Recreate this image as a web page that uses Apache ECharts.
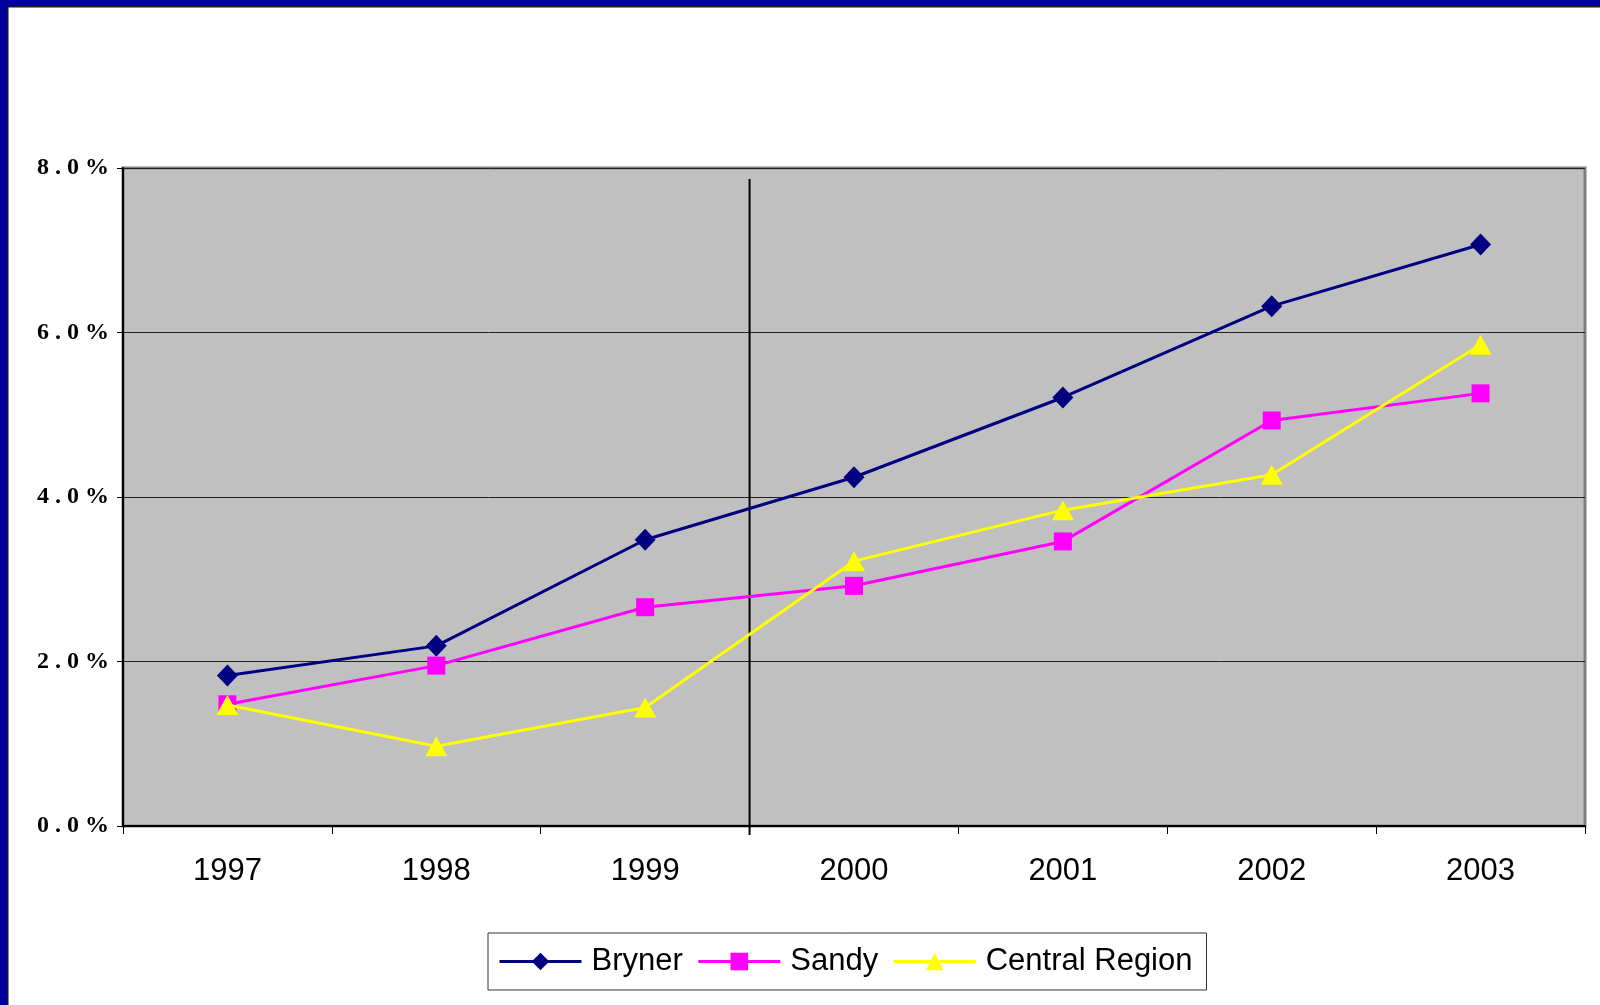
<!DOCTYPE html>
<html>
<head>
<meta charset="utf-8">
<script src="https://cdn.jsdelivr.net/npm/echarts@6/dist/echarts.min.js"></script>
<style>
html,body{margin:0;padding:0;background:#fff;}
#chart{width:1600px;height:1005px;}
</style>
</head>
<body>
<div id="chart"></div>
<script>
const years = ['1997','1998','1999','2000','2001','2002','2003'];
const bryner = [1.83, 2.19, 3.48, 4.24, 5.21, 6.32, 7.07];
const sandy = [1.48, 1.95, 2.66, 2.92, 3.46, 4.93, 5.26];
const central = [1.47, 0.97, 1.44, 3.22, 3.84, 4.27, 5.85];
const seriesNames = ['Bryner', 'Sandy', 'Central Region'];
// divider between 1999 and 2000 (category position 2.5), spanning value range
const dividerLine = [[2.5, 7.865], [2.5, -0.11]];

const chart = echarts.init(document.getElementById('chart'));
chart.setOption({
  animation: false,
  backgroundColor: '#ffffff',
  graphic: [
    {type:'rect', shape:{x:0,y:0,width:1600,height:6}, style:{fill:'#00009C'}, z:100},
    {type:'rect', shape:{x:0,y:6,width:1600,height:1.5}, style:{fill:'#1a1a1a'}, z:100},
    {type:'rect', shape:{x:0,y:0,width:7,height:1005}, style:{fill:'#00009C'}, z:100},
    {type:'rect', shape:{x:7,y:6,width:1.5,height:1005}, style:{fill:'#1a1a1a'}, z:100}
  ],
  grid: {
    left: 123, right: 15, top: 168, bottom: 179,
    show: true, backgroundColor: '#C0C0C0',
    borderColor: '#808080', borderWidth: 3
  },
  legend: {
    data: seriesNames,
    left: 488, top: 933, width: 717, height: 62,
    padding: [13, 14, 13, 10],
    itemGap: 14,
    itemWidth: 82, itemHeight: 22,
    borderColor: '#333', borderWidth: 1,
    backgroundColor: '#fff',
    lineStyle: {width: 3},
    textStyle: {fontFamily: 'Liberation Sans, Arial', fontSize: 31, color: '#000', padding:[0,0,0,5]}
  },
  xAxis: [{
    type: 'category',
    data: years,
    boundaryGap: true,
    axisLine: {lineStyle: {color: '#000', width: 2}},
    axisTick: {show: true, length: 8, lineStyle: {color: '#000', width: 1}},
    axisLabel: {fontFamily: 'Liberation Sans, Arial', fontSize: 31, color: '#000', margin: 30},
    splitLine: {show: false}
  }, {
    type: 'value', min: -0.5, max: 6.5, show: false
  }],
  yAxis: {
    type: 'value', min: 0, max: 8, interval: 2,
    axisLine: {show: true, onZero: false, lineStyle: {color: '#000', width: 2}},
    axisTick: {show: true, length: 6, lineStyle: {color: '#000'}},
    axisLabel: {
      fontFamily: 'Liberation Serif, Times New Roman', fontWeight: 'bold', fontSize: 24, color: '#000',
      margin: 14,
      formatter: v => (v.toFixed(1) + '%').split('').join(' ')
    },
    splitLine: {lineStyle: {color: '#222', width: 1}}
  },
  series: [
    {
      name: '_divider', type: 'line', xAxisIndex: 1, data: dividerLine,
      showSymbol: false, symbol: 'none', clip: false, silent: true,
      lineStyle: {color: '#000', width: 2}, z: 1
    },
    {
      name: 'Bryner', type: 'line', data: bryner,
      symbol: 'diamond', symbolSize: [21, 22],
      itemStyle: {color: '#000080'}, lineStyle: {color: '#000080', width: 3}, z: 3
    },
    {
      name: 'Sandy', type: 'line', data: sandy,
      symbol: 'rect', symbolSize: 18,
      itemStyle: {color: '#FF00FF'}, lineStyle: {color: '#FF00FF', width: 3}, z: 4
    },
    {
      name: 'Central Region', type: 'line', data: central,
      symbol: 'triangle', symbolSize: [22, 20],
      itemStyle: {color: '#FFFF00'}, lineStyle: {color: '#FFFF00', width: 3}, z: 5
    }
  ]
});
</script>
</body>
</html>
